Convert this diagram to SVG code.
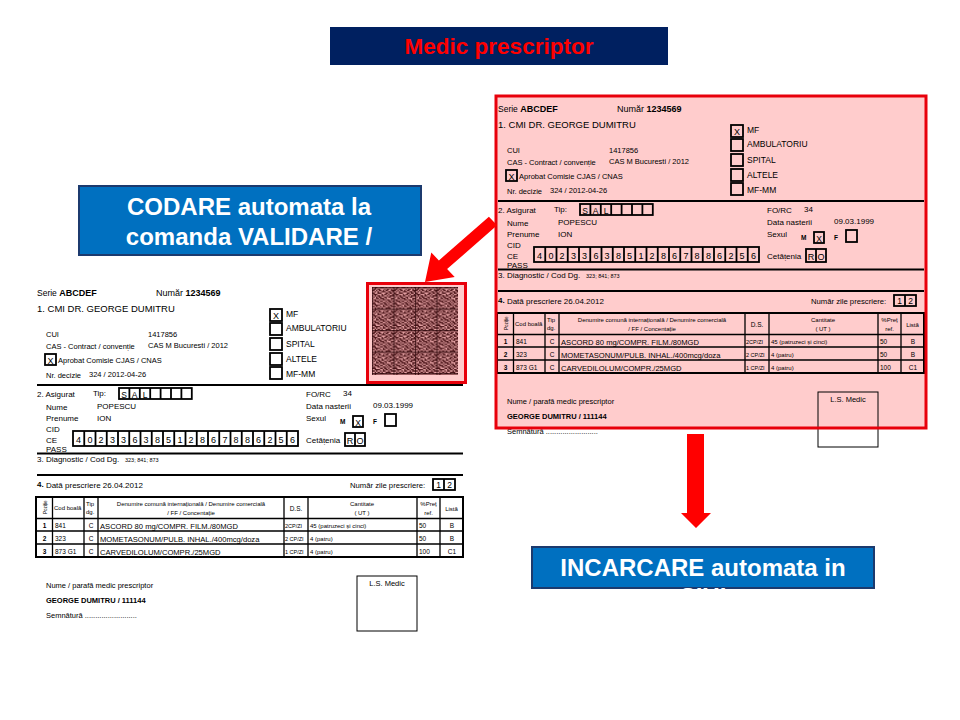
<svg xmlns="http://www.w3.org/2000/svg" xmlns:xlink="http://www.w3.org/1999/xlink" width="960" height="720" viewBox="0 0 960 720">
<style>
text{font-family:"Liberation Sans",Arial,sans-serif;fill:#000}
.b{font-weight:bold}
.m{text-anchor:middle}
.s5{font-size:5.5px}.s6{font-size:6px}.s65{font-size:6.5px}.s7{font-size:7.5px}.s76{font-size:7.7px}.s8{font-size:8px}.s85{font-size:8.5px}.s9{font-size:9px}.s95{font-size:9.5px}
.bx{fill:none;stroke:#000;stroke-width:1.8}
.ln{stroke:#000;stroke-width:2;fill:none}
.tl{stroke:#000;stroke-width:1.3;fill:none}
.blue{fill:#0070c0;stroke:#1c3a6e;stroke-width:2}
.wt{fill:#fff;font-weight:bold;font-size:24px;text-anchor:middle}
.arrow{fill:#ff0000}
</style>
<defs>
<pattern id="bc" patternUnits="userSpaceOnUse" x="372" y="287" width="21.5" height="21.5">
<rect width="21.5" height="21.5" fill="#e8a4a6"/>
<path transform="scale(1.34375)" fill="#4a1418" d="M0 0h1v1h-1zM2 0h2v1h-2zM6 0h3v1h-3zM10 0h1v1h-1zM13 0h1v1h-1zM15 0h1v1h-1zM1 1h2v1h-2zM4 1h2v1h-2zM9 1h1v1h-1zM11 1h2v1h-2zM14 1h1v1h-1zM0 2h2v1h-2zM3 2h1v1h-1zM5 2h2v1h-2zM8 2h1v1h-1zM10 2h2v1h-2zM14 2h2v1h-2zM2 3h1v1h-1zM4 3h1v1h-1zM7 3h3v1h-3zM12 3h2v1h-2zM15 3h1v1h-1zM0 4h2v1h-2zM4 4h3v1h-3zM10 4h2v1h-2zM13 4h2v1h-2zM1 5h3v1h-3zM7 5h1v1h-1zM9 5h2v1h-2zM12 5h1v1h-1zM15 5h1v1h-1zM0 6h1v1h-1zM2 6h1v1h-1zM4 6h2v1h-2zM7 6h2v1h-2zM11 6h1v1h-1zM13 6h3v1h-3zM1 7h1v1h-1zM3 7h1v1h-1zM5 7h2v1h-2zM9 7h2v1h-2zM12 7h2v1h-2zM0 8h1v1h-1zM3 8h2v1h-2zM6 8h3v1h-3zM10 8h1v1h-1zM14 8h2v1h-2zM1 9h2v1h-2zM5 9h1v1h-1zM8 9h2v1h-2zM11 9h2v1h-2zM14 9h1v1h-1zM0 10h1v1h-1zM2 10h3v1h-3zM6 10h2v1h-2zM10 10h1v1h-1zM12 10h2v1h-2zM15 10h1v1h-1zM1 11h1v1h-1zM4 11h2v1h-2zM8 11h2v1h-2zM11 11h1v1h-1zM13 11h2v1h-2zM0 12h3v1h-3zM6 12h2v1h-2zM9 12h2v1h-2zM12 12h1v1h-1zM15 12h1v1h-1zM2 13h4v1h-4zM8 13h1v1h-1zM10 13h2v1h-2zM13 13h2v1h-2zM0 14h2v1h-2zM3 14h1v1h-1zM6 14h1v1h-1zM8 14h2v1h-2zM12 14h1v1h-1zM14 14h2v1h-2zM2 15h1v1h-1zM4 15h2v1h-2zM7 15h1v1h-1zM10 15h4v1h-4z"/>
<path d="M0 0.4H21.5M0.4 0V21.5" stroke="#2e0a0c" stroke-width="0.8"/>
</pattern>
<g id="form">
<text x="37" y="296" class="s85">Serie <tspan class="b s9">ABCDEF</tspan></text>
<text x="156" y="296" class="s9">Număr <tspan class="b">1234569</tspan></text>
<text x="37" y="312" class="s95">1. CMI DR. GEORGE DUMITRU</text>
<text x="46" y="337" class="s7">CUI</text>
<text x="148" y="337" class="s7">1417856</text>
<text x="46" y="349" class="s7">CAS - Contract / convenție</text>
<text x="148" y="348" class="s7">CAS M Bucuresti / 2012</text>
<rect x="45" y="354" width="11" height="11" class="bx"/>
<text x="50.5" y="363.5" class="s9 m">X</text>
<text x="58" y="363" class="s7">Aprobat Comisie CJAS / CNAS</text>
<text x="46" y="378" class="s7">Nr. decizie</text>
<text x="89" y="377" class="s7">324 / 2012-04-26</text>
<rect x="270" y="309" width="12" height="12" class="bx"/>
<text x="276" y="319" class="s9 m">X</text>
<rect x="270" y="323" width="12" height="12" class="bx"/>
<rect x="270" y="338" width="12" height="12" class="bx"/>
<rect x="270" y="353" width="12" height="12" class="bx"/>
<rect x="270" y="367" width="12" height="12" class="bx"/>
<text x="286" y="317" class="s85">MF</text>
<text x="286" y="331" class="s85">AMBULATORIU</text>
<text x="286" y="347" class="s85">SPITAL</text>
<text x="286" y="362" class="s85">ALTELE</text>
<text x="286" y="377" class="s85">MF-MM</text>
<path d="M37 385H463" class="ln"/>
<text x="37" y="397" class="s8">2. Asigurat</text>
<text x="93" y="396" class="s8">Tip:</text>
<rect x="119" y="388" width="72.8" height="11" class="bx"/>
<path d="M129.4 388v11M139.8 388v11M150.2 388v11M160.6 388v11M171 388v11M181.4 388v11" class="bx"/>
<text x="124.2 134.6 145" y="397.5" class="s85 m">SAL</text>
<text x="46" y="410" class="s8">Nume</text>
<text x="97" y="409" class="s8">POPESCU</text>
<text x="46" y="421" class="s8">Prenume</text>
<text x="97" y="421" class="s8">ION</text>
<text x="46" y="432" class="s8">CID</text>
<text x="46" y="443" class="s8">CE</text>
<text x="46" y="452" class="s8">PASS</text>
<rect x="73" y="431" width="225" height="15" class="bx"/>
<path d="M84.25 431v15M95.5 431v15M106.75 431v15M118 431v15M129.25 431v15M140.5 431v15M151.75 431v15M163 431v15M174.25 431v15M185.5 431v15M196.75 431v15M208 431v15M219.25 431v15M230.5 431v15M241.75 431v15M253 431v15M264.25 431v15M275.5 431v15M286.75 431v15" class="bx"/>
<text x="78.6 89.9 101.1 112.4 123.6 134.9 146.1 157.4 168.6 179.9 191.1 202.4 213.6 224.9 236.1 247.4 258.6 269.9 281.1 292.4" y="442.5" class="s9 m">40233638512867886256</text>
<text x="306" y="397" class="s8">FO/RC</text>
<text x="343" y="396" class="s8">34</text>
<text x="306" y="409" class="s8">Data nasterii</text>
<text x="373" y="408" class="s8">09.03.1999</text>
<text x="306" y="421" class="s8">Sexul</text>
<text x="340" y="424" class="s65 b">M</text>
<rect x="353" y="416" width="10" height="11" class="bx"/>
<text x="358" y="425.5" class="s85 m">X</text>
<text x="373" y="424" class="s65 b">F</text>
<rect x="385" y="414" width="11" height="12" class="bx"/>
<text x="306" y="443" class="s8">Cetățenia</text>
<rect x="345" y="433" width="20" height="13" class="bx"/>
<path d="M355 433v13" class="bx"/>
<text x="350 360" y="443.5" class="s9 m">RO</text>
<path d="M37 453.5H463" class="ln"/>
<text x="37" y="462" class="s8">3. Diagnostic / Cod Dg.</text>
<text x="125" y="462" class="s5">323; 841; 873</text>
<path d="M37 475H463" class="ln" stroke-width="2.5"/>
<text x="37" y="488" class="s8"><tspan class="b" dy="-1.5">4.</tspan><tspan dy="1.5"> Dată prescriere  26.04.2012</tspan></text>
<text x="350" y="488" class="s76">Număr zile prescriere:</text>
<rect x="433" y="479" width="22" height="11" class="bx"/>
<path d="M444 479v11" class="bx"/>
<text x="438.5 449.5" y="488" class="s85 m">12</text>
<rect x="36" y="497" width="427" height="60" class="ln"/>
<path d="M36 518.5H463M36 531H463M36 544H463M52.5 497v60M84 497v60M98 497v60M284 497v60M308 497v60M417 497v60M440 497v60" class="tl"/>
<text transform="translate(46.5,514) rotate(-90)" style="font-size:4.5px">Poziție</text>
<text x="54" y="510" class="s6">Cod boală</text>
<text x="86" y="506" class="s6">Tip</text>
<text x="86" y="514" class="s6">dg.</text>
<text x="191" y="506" class="s6 m">Denumire comună internațională / Denumire comercială</text>
<text x="191" y="515" class="s6 m">/ FF / Concentație</text>
<text x="296" y="511" class="s65 m">D.S.</text>
<text x="362" y="506" class="s6 m">Cantitate</text>
<text x="362" y="515" class="s6 m">( UT )</text>
<text x="428.5" y="506" class="s6 m">%Preț</text>
<text x="428.5" y="515" class="s6 m">ref.</text>
<text x="451.5" y="511" class="s6 m">Listă</text>
<text x="44.5" y="528" class="s65 m b">1</text>
<text x="44.5" y="541" class="s65 m b">2</text>
<text x="44.5" y="554" class="s65 m b">3</text>
<text x="55" y="528" class="s65">841</text>
<text x="55" y="541" class="s65">323</text>
<text x="55" y="554" class="s65">873 G1</text>
<text x="91" y="528" class="s65 m">C</text>
<text x="91" y="541" class="s65 m">C</text>
<text x="91" y="554" class="s65 m">C</text>
<text x="100" y="528.5" style="font-size:7.6px">ASCORD 80 mg/COMPR. FILM./80MGD</text>
<text x="100" y="541.5" style="font-size:7.6px">MOMETASONUM/PULB. INHAL./400mcg/doza</text>
<text x="100" y="554.5" style="font-size:7.6px">CARVEDILOLUM/COMPR./25MGD</text>
<text x="285" y="528" class="s5">2CP/ZI</text>
<text x="285" y="541" class="s5">2 CP/ZI</text>
<text x="285" y="554" class="s5">1 CP/ZI</text>
<text x="310" y="528" class="s6">45 (patruzeci și cinci)</text>
<text x="310" y="541" class="s6">4 (patru)</text>
<text x="310" y="554" class="s6">4 (patru)</text>
<text x="419" y="528" class="s65">50</text>
<text x="419" y="541" class="s65">50</text>
<text x="419" y="554" class="s65">100</text>
<text x="452" y="528" class="s65 m">B</text>
<text x="452" y="541" class="s65 m">B</text>
<text x="452" y="554" class="s65 m">C1</text>
<text x="46" y="588" class="s7">Nume / parafă medic prescriptor</text>
<text x="46" y="603" class="s7 b">GEORGE DUMITRU / 111144</text>
<text x="46" y="618" class="s7">Semnătură  .........................</text>
<rect x="357" y="576" width="60" height="55" fill="none" stroke="#000" stroke-width="1"/>
<text x="387" y="586" class="s7 m">L.S. Medic</text>
</g>
</defs>

<g id="title">
<rect x="330" y="27" width="338" height="38" fill="#002060"/>
<text x="499" y="54" class="b m" style="font-size:22.5px;fill:#ff0000">Medic prescriptor</text>
</g>

<g id="prescription-paper">
<use xlink:href="#form" href="#form"/>
</g>

<g id="barcode">
<rect x="367.5" y="283.5" width="98" height="99" fill="#ffcccc" stroke="#e8000b" stroke-width="3"/>
<rect x="372" y="287" width="86" height="88" fill="url(#bc)"/>
</g>

<g id="prescription-validated">
<rect x="496" y="96" width="430" height="332" fill="#ffcccc"/>
<use xlink:href="#form" href="#form" transform="translate(461,-184)"/>
<rect x="496" y="96" width="430" height="332" fill="none" stroke="#e8000b" stroke-width="3"/>
</g>

<g id="codare">
<rect x="79" y="186" width="342" height="69" class="blue"/>
<text x="249" y="215" class="wt">CODARE automata la</text>
<text x="249" y="245" class="wt">comanda VALIDARE /</text>
<text x="249" y="274" class="wt">PRINT</text>
</g>

<g id="incarcare">
<rect x="532" y="547" width="342" height="41" class="blue"/>
<text x="703" y="576" class="wt">INCARCARE automata in</text>
<text x="703" y="605" class="wt">SIUI</text>
</g>

<g id="connectors">
<polygon class="arrow" points="488.9,216.7 497.1,225.3 447.1,269.1 454.7,277 425,282 431.3,252.5 438.9,260.4"/>
<polygon class="arrow" points="687,434 704,434 704,513 711,513 696,528 681,513 687,513"/>
</g>
</svg>
